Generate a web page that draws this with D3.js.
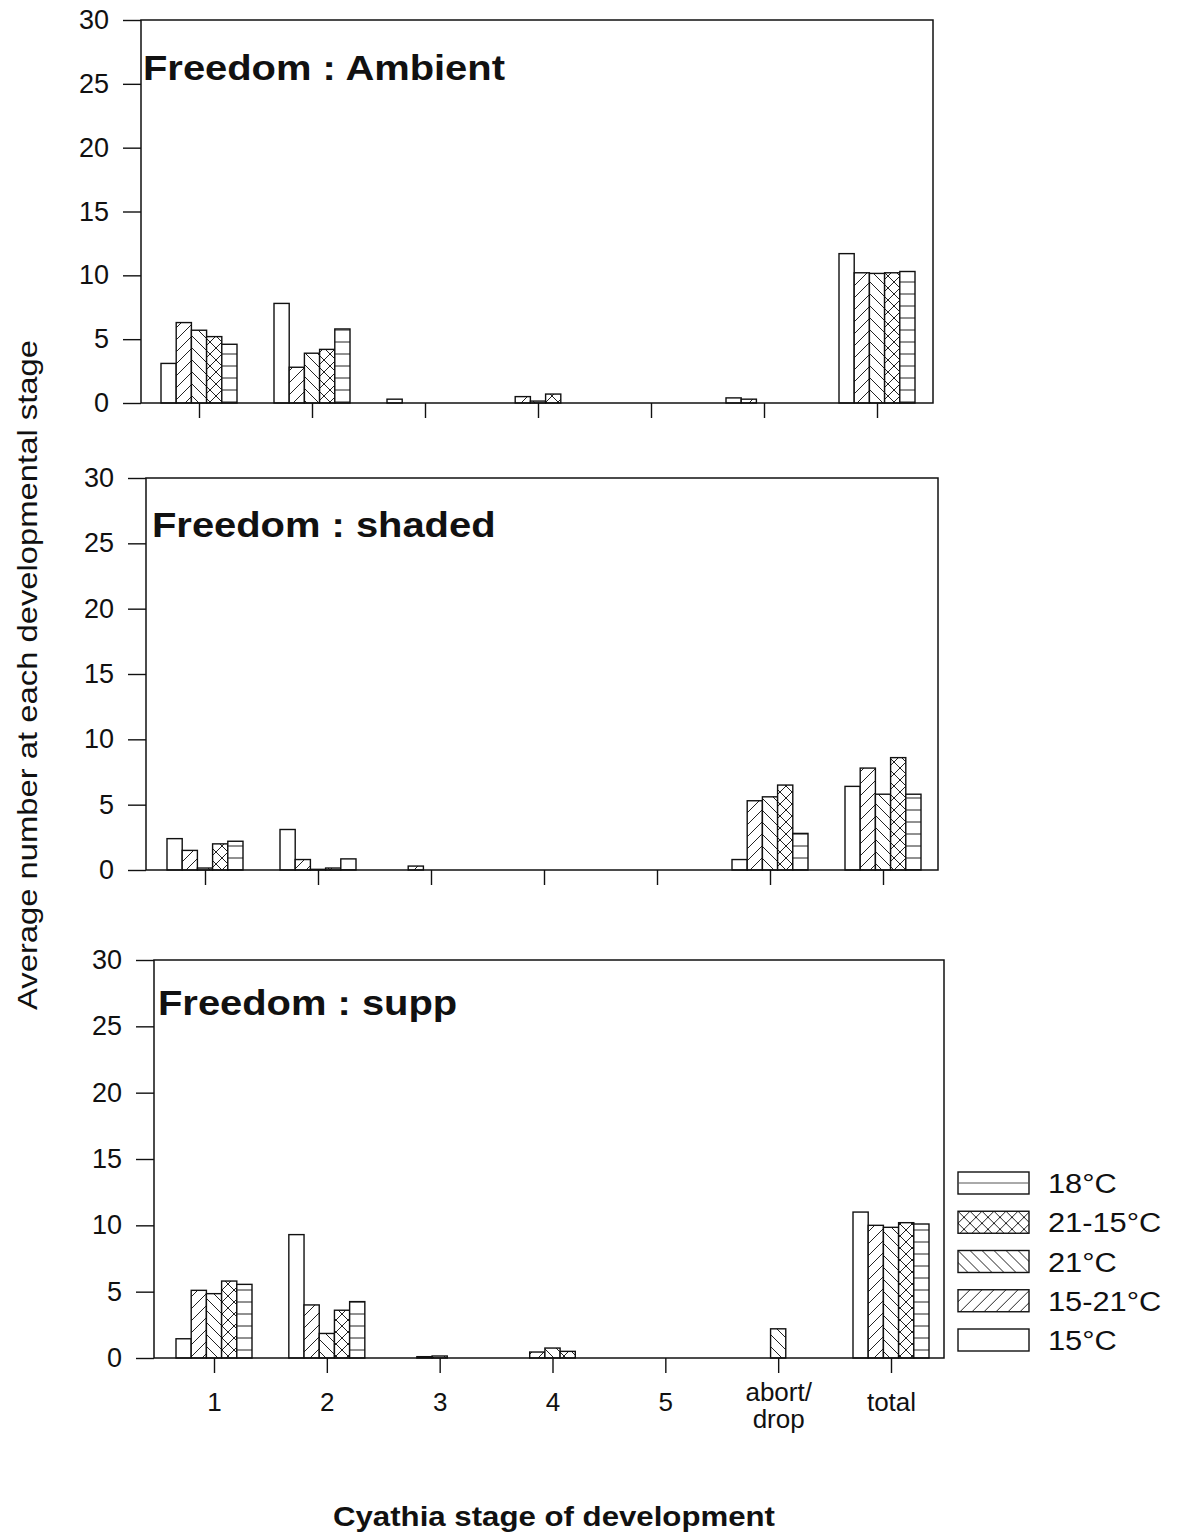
<!DOCTYPE html>
<html>
<head>
<meta charset="utf-8">
<script src="https://cdn.jsdelivr.net/npm/d3@7"></script>
<style>
  body { margin: 0; background: #fff; }
  svg { display: block; font-family: "Liberation Sans", Arial, sans-serif; }
</style>
</head>
<body>
<div id="chart"></div>
<script>
// categories along x and treatment series (bar order inside each group)
var categories = ["1", "2", "3", "4", "5", "abort/drop", "total"];
var series = ["15°C", "15-21°C", "21°C", "21-15°C", "18°C"];
var legendOrder = ["18°C", "21-15°C", "21°C", "15-21°C", "15°C"];
var yTicks = [0, 5, 10, 15, 20, 25, 30];

// Freedom : Ambient
var ambient15 = [3.1, 7.8, 0.3, 0, 0, 0.4, 11.7];
var ambient1521 = [6.3, 2.8, 0, 0.5, 0, 0.3, 10.2];
var ambient21 = [5.7, 3.9, 0, 0.15, 0, 0, 10.15];
var ambient2115 = [5.2, 4.2, 0, 0.7, 0, 0, 10.2];
var ambient18 = [4.6, 5.8, 0, 0, 0, 0, 10.3];

// Freedom : shaded
var shaded15 = [2.4, 3.1, 0, 0, 0, 0.8, 6.4];
var shaded1521 = [1.5, 0.8, 0.3, 0, 0, 5.3, 7.8];
var shaded21 = [0.15, 0.05, 0, 0, 0, 5.6, 5.8];
var shaded2115 = [2.0, 0.15, 0, 0, 0, 6.5, 8.6];
var shaded18 = [2.2, 0.85, 0, 0, 0, 2.8, 5.8];

// Freedom : supp
var supp15 = [1.45, 9.3, 0, 0, 0, 0, 11.0];
var supp1521 = [5.1, 4.0, 0.1, 0.45, 0, 0, 10.0];
var supp21 = [4.85, 1.85, 0.15, 0.75, 0, 2.2, 9.85];
var supp2115 = [5.8, 3.6, 0, 0.5, 0, 0, 10.2];
var supp18 = [5.55, 4.25, 0, 0, 0, 0, 10.1];

document.addEventListener('DOMContentLoaded', function () {
  var width = 1180, height = 1535;
  var font = "Liberation Sans, Arial, sans-serif";

  var svg = d3.select("#chart").append("svg")
    .attr("width", width).attr("height", height);

  // hatch patterns, one per series
  var defs = svg.append("defs");
  var tile = 12;
  var slash = "M-2,2 l4,-4 M0," + tile + " l" + tile + ",-" + tile + " M" + (tile - 2) + "," + (tile + 2) + " l4,-4";
  var back = "M-2," + (tile - 2) + " l4,4 M0,0 l" + tile + "," + tile + " M" + (tile - 2) + ",-2 l4,4";
  var patternPaths = {
    "15°C": null,
    "15-21°C": slash,
    "21°C": back,
    "21-15°C": slash + " " + back,
    "18°C": "M0," + (tile / 2) + " H" + (tile * 2)
  };
  series.forEach(function (s, i) {
    if (!patternPaths[s]) return;
    var w = s === "18°C" ? tile * 2 : tile;
    var p = defs.append("pattern")
      .attr("id", "pat" + i)
      .attr("patternUnits", "userSpaceOnUse")
      .attr("width", w).attr("height", tile);
    p.append("rect").attr("width", w).attr("height", tile).attr("fill", "#fff");
    p.append("path").attr("d", patternPaths[s])
      .attr("stroke", "#222").attr("stroke-width", 1).attr("fill", "none");
  });
  function fillFor(s) {
    var i = series.indexOf(s);
    return patternPaths[s] ? "url(#pat" + i + ")" : "#fff";
  }

  var panels = [
    { title: "Freedom : Ambient", data: [ambient15, ambient1521, ambient21, ambient2115, ambient18],
      left: 141, right: 933, top: 20, bottom: 403, x0: 199, x1: 877, tx: 143, ty: 80, labels: false },
    { title: "Freedom : shaded", data: [shaded15, shaded1521, shaded21, shaded2115, shaded18],
      left: 146, right: 938, top: 478, bottom: 870, x0: 205, x1: 883, tx: 152, ty: 537, labels: false },
    { title: "Freedom : supp", data: [supp15, supp1521, supp21, supp2115, supp18],
      left: 154, right: 944, top: 960, bottom: 1358, x0: 214, x1: 891, tx: 158, ty: 1015, labels: true }
  ];

  panels.forEach(function (p) {
    var g = svg.append("g");

    var y = d3.scaleLinear().domain([0, 30]).range([p.bottom, p.top]);
    var x = d3.scalePoint().domain(categories).range([p.x0, p.x1]);
    var xs = d3.scaleBand().domain(series).range([-38, 38]);

    // bars
    series.forEach(function (s, si) {
      g.append("g").selectAll("rect")
        .data(p.data[si].map(function (v, ci) { return { cat: categories[ci], v: v }; })
          .filter(function (d) { return d.v > 0; }))
        .enter().append("rect")
        .attr("x", function (d) { return x(d.cat) + xs(s); })
        .attr("y", function (d) { return y(d.v); })
        .attr("width", xs.bandwidth())
        .attr("height", function (d) { return y(0) - y(d.v); })
        .attr("fill", fillFor(s))
        .attr("stroke", "#111").attr("stroke-width", 1.4);
    });

    // frame
    g.append("rect")
      .attr("x", p.left).attr("y", p.top)
      .attr("width", p.right - p.left).attr("height", p.bottom - p.top)
      .attr("fill", "none").attr("stroke", "#111").attr("stroke-width", 1.5);

    // y axis
    var yAxis = g.append("g")
      .attr("transform", "translate(" + p.left + ",0)")
      .call(d3.axisLeft(y).tickValues(yTicks).tickSize(18).tickPadding(14));
    yAxis.select(".domain").remove();
    yAxis.selectAll("line").attr("stroke", "#111").attr("stroke-width", 1.4);
    yAxis.selectAll("text").attr("font-size", 27).attr("fill", "#111").attr("font-family", font);

    // x axis
    var xAxis = g.append("g")
      .attr("transform", "translate(0," + p.bottom + ")")
      .call(d3.axisBottom(x).tickSize(15).tickPadding(20).tickFormat(function (d) {
        return p.labels ? d : "";
      }));
    xAxis.select(".domain").remove();
    xAxis.selectAll("line").attr("stroke", "#111").attr("stroke-width", 1.4);
    xAxis.selectAll("text").attr("font-size", 26).attr("fill", "#111").attr("font-family", font);
    if (p.labels) {
      // split "abort/drop" over two lines
      xAxis.selectAll("text").filter(function (d) { return d === "abort/drop"; })
        .text(null)
        .call(function (t) {
          t.append("tspan").attr("x", 0).attr("dy", "0.3em").text("abort/");
          t.append("tspan").attr("x", 0).attr("dy", "1.05em").text("drop");
        });
    }

    // title
    g.append("text")
      .attr("transform", "translate(" + p.tx + "," + p.ty + ") scale(1.14,1)")
      .attr("font-size", 35).attr("font-weight", "bold").attr("fill", "#111")
      .text(p.title);
  });

  // legend
  var legend = svg.append("g").attr("transform", "translate(958,1172)");
  var legendY = d3.scalePoint().domain(legendOrder).range([0, 157]);
  legendOrder.forEach(function (s) {
    var row = legend.append("g").attr("transform", "translate(0," + legendY(s) + ")");
    if (s === "18°C") {
      row.append("rect").attr("width", 71).attr("height", 22)
        .attr("fill", "#fff").attr("stroke", "#111").attr("stroke-width", 1.4);
      row.append("line").attr("x1", 0).attr("x2", 71).attr("y1", 11).attr("y2", 11)
        .attr("stroke", "#555").attr("stroke-width", 1);
    } else {
      row.append("rect").attr("width", 71).attr("height", 22)
        .attr("fill", fillFor(s)).attr("stroke", "#111").attr("stroke-width", 1.4);
    }
    row.append("text")
      .attr("transform", "translate(90,21) scale(1.1,1)")
      .attr("font-size", 28).attr("fill", "#111").text(s);
  });

  // axis titles
  svg.append("text")
    .attr("transform", "translate(37,675) rotate(-90)")
    .attr("text-anchor", "middle")
    .attr("font-size", 28).attr("fill", "#111")
    .attr("textLength", 670).attr("lengthAdjust", "spacingAndGlyphs")
    .text("Average number at each developmental stage");

  svg.append("text")
    .attr("x", 554).attr("y", 1526)
    .attr("text-anchor", "middle")
    .attr("font-size", 27).attr("font-weight", "bold").attr("fill", "#111")
    .attr("textLength", 442).attr("lengthAdjust", "spacingAndGlyphs")
    .text("Cyathia stage of development");
});
</script>
</body>
</html>
